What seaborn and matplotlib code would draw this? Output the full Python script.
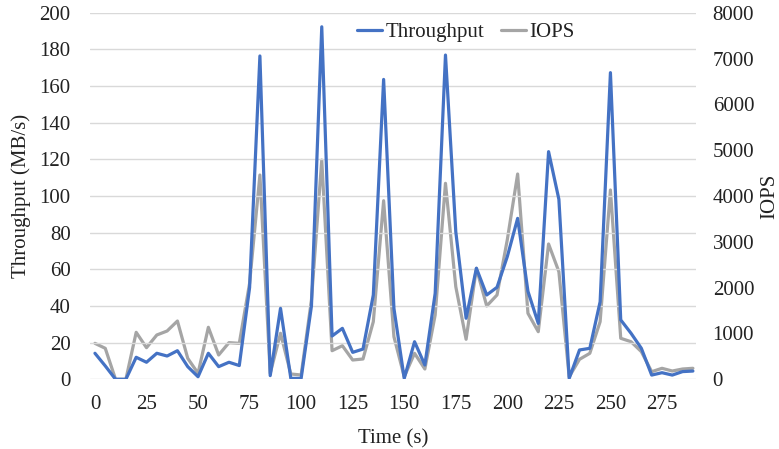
import matplotlib
matplotlib.use("Agg")
import matplotlib.pyplot as plt
import seaborn as sns
import pandas as pd

time_s = list(range(0, 295, 5))
throughput = [14.2, 7.3, 0, 0, 12.0, 9.3, 14.2, 12.7, 15.6, 6.9,
              1.4, 14.2, 6.9, 9.3, 7.5, 50.0, 176.4, 2.0, 38.7, 0.5,
              0.5, 40.0, 192.3, 23.6, 27.8, 14.7, 16.5, 46.0, 163.6, 38.7,
              0.5, 20.5, 7.8, 46.9, 176.9, 80.5, 33.3, 60.6, 46.0, 50.2,
              67.0, 87.8, 48.0, 30.5, 124.2, 98.2, 0.5, 16.0, 16.9, 42.3,
              167.3, 32.4, 25.1, 16.9, 2.3, 3.6, 2.3, 4.2, 4.5]
iops = [785, 676, 0, 0, 1025, 690, 967, 1054, 1272, 458,
        131, 1135, 530, 800, 785, 2095, 4458, 131, 1004, 116,
        94, 1730, 4785, 624, 733, 421, 443, 1257, 3897, 930,
        55, 567, 225, 1403, 4277, 2021, 873, 2422, 1600, 1840,
        3050, 4480, 1440, 1039, 2953, 2348, 55, 436, 567, 1257,
        4131, 895, 820, 603, 166, 240, 181, 225, 240]
x_ticks = [0, 25, 50, 75, 100, 125, 150, 175, 200, 225, 250, 275]
left_ticks = [0, 20, 40, 60, 80, 100, 120, 140, 160, 180, 200]
right_ticks = [0, 1000, 2000, 3000, 4000, 5000, 6000, 7000, 8000]

df = pd.DataFrame({"Time (s)": time_s, "Throughput": throughput, "IOPS": iops})

sns.set_theme(style="white")
plt.rcParams["font.family"] = ["Liberation Serif", "DejaVu Serif"]
FS = 15

BLUE = "#4472C4"
GRAY = "#A5A5A5"
GRID = "#D9D9D9"
TEXT = "#222222"

fig = plt.figure(figsize=(7.79, 4.49), dpi=100)
ax = fig.add_axes([90 / 779, (449 - 379.3) / 449, 606 / 779, 366.6 / 449])
ax2 = ax.twinx()

sns.lineplot(data=df, x="Time (s)", y="Throughput", ax=ax, color=BLUE,
             linewidth=2.3, label="Throughput", legend=False, zorder=3)
sns.lineplot(data=df, x="Time (s)", y="IOPS", ax=ax2, color=GRAY,
             linewidth=2.3, label="IOPS", legend=False, zorder=2)

ax.set_xlim(-2.4, 291.5)
ax.set_ylim(0, 200)
ax2.set_ylim(0, 8000)
ax.set_xticks(x_ticks)
ax.set_yticks(left_ticks)
ax2.set_yticks(right_ticks)

ax.yaxis.grid(True, color=GRID, linewidth=1.0)
ax.xaxis.grid(False)
ax2.grid(False)
ax.set_axisbelow(True)
for a in (ax, ax2):
    for s in a.spines.values():
        s.set_visible(False)

ax.tick_params(axis="x", length=0, pad=11, labelsize=FS, colors=TEXT)
ax.tick_params(axis="y", length=0, pad=14, labelsize=FS, colors=TEXT)
ax2.tick_params(axis="y", length=0, pad=12, labelsize=FS, colors=TEXT)

ax.set_xlabel("Time (s)", fontsize=FS, labelpad=11, color=TEXT)
ax.set_ylabel("Throughput (MB/s)", fontsize=FS, labelpad=6, color=TEXT)
ax2.set_ylabel("IOPS", fontsize=FS, labelpad=4, rotation=90, color=TEXT)

# keep blue line above gray
ax.set_zorder(ax2.get_zorder() + 1)
ax.patch.set_visible(False)

h1, l1 = ax.get_legend_handles_labels()
h2, l2 = ax2.get_legend_handles_labels()
leg = ax.legend(h1 + h2, l1 + l2, loc="center", bbox_to_anchor=(0.620, 0.947),
                ncol=2, frameon=False, fontsize=FS, handlelength=1.2,
                handletextpad=0.15, columnspacing=0.8, labelcolor=TEXT)

fig.savefig("out.png", dpi=100)
